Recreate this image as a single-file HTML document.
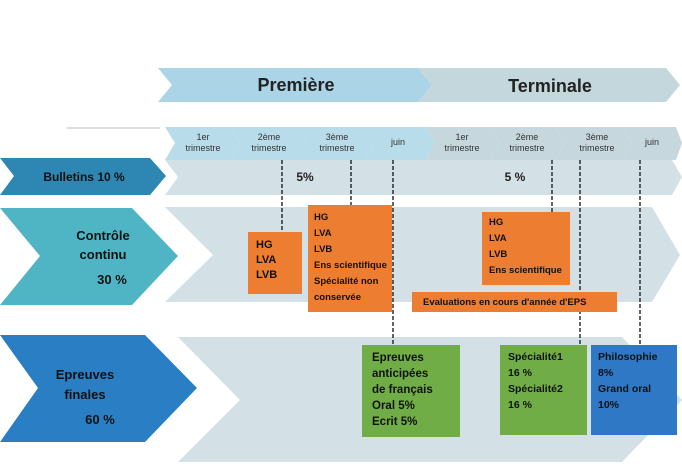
<!DOCTYPE html><html><head><meta charset="utf-8"><style>
body{margin:0;width:682px;height:469px;background:#fff;overflow:hidden;font-family:"Liberation Sans",sans-serif}
svg{position:absolute;left:0;top:0}
.b{position:absolute;font-weight:bold;font-size:10px;line-height:15px;color:#111;box-sizing:border-box;white-space:nowrap}
</style></head><body>
<svg width="682" height="469">
<g font-family="Liberation Sans, sans-serif">
<polygon points="158,68 418,68 432,85 418,102 158,102 172,85" fill="#abd5e7"/>
<polygon points="418,68 666,68 680,85 666,102 418,102 432,85" fill="#c4d7dd"/>
<text x="296" y="91" font-size="18" font-weight="bold" text-anchor="middle" fill="#222">Première</text>
<text x="550" y="92" font-size="18" font-weight="bold" text-anchor="middle" fill="#222">Terminale</text>
<line x1="67" y1="128" x2="160" y2="128" stroke="#bbb"/>
<polygon points="165,127 230,127 240,143 230,160 165,160 175,143" fill="#b8dcea"/>
<polygon points="230,127 297,127 307,143 297,160 230,160 240,143" fill="#b8dcea"/>
<polygon points="297,127 365,127 375,143 365,160 297,160 307,143" fill="#b8dcea"/>
<polygon points="365,127 425,127 435,143 425,160 365,160 375,143" fill="#b8dcea"/>
<polygon points="425,127 490,127 500,143 490,160 425,160 435,143" fill="#c6d8de"/>
<polygon points="490,127 555,127 565,143 555,160 490,160 500,143" fill="#c6d8de"/>
<polygon points="555,127 622,127 632,143 622,160 555,160 565,143" fill="#c6d8de"/>
<polygon points="622,127 676,127 682,143 676,160 622,160 632,143" fill="#c6d8de"/>
<g font-size="9" fill="#333" text-anchor="middle">
<text x="203" y="140">1er</text><text x="203" y="151">trimestre</text>
<text x="269" y="140">2ème</text><text x="269" y="151">trimestre</text>
<text x="337" y="140">3ème</text><text x="337" y="151">trimestre</text>
<text x="398" y="145">juin</text>
<text x="462" y="140">1er</text><text x="462" y="151">trimestre</text>
<text x="527" y="140">2ème</text><text x="527" y="151">trimestre</text>
<text x="597" y="140">3ème</text><text x="597" y="151">trimestre</text>
<text x="652" y="145">juin</text>
</g>
<polygon points="165,160 412,160 425,177 412,195 165,195 178,177" fill="#d3e0e6"/>
<polygon points="412,160 672,160 682,177 672,195 412,195 425,177" fill="#d3e0e6"/>
<polygon points="0,158 150,158 166,176 150,195 0,195 14,176" fill="#2d87b2"/>
<text x="84" y="181" font-size="12" font-weight="bold" text-anchor="middle" fill="#111">Bulletins 10 %</text>
<text x="305" y="181" font-size="12" font-weight="bold" fill="#222" text-anchor="middle">5%</text>
<text x="515" y="181" font-size="12" font-weight="bold" fill="#222" text-anchor="middle">5 %</text>
<polygon points="165,207 652,207 680,255 652,302 165,302 213,255" fill="#d3e0e6"/>
<polygon points="0,208 132,208 178,256 132,305 0,305 40,256" fill="#4fb4c4"/>
<polygon points="178,337 622,337 682,400 622,462 178,462 240,400" fill="#d3e0e6"/>
<polygon points="0,335 145,335 197,388 145,442 0,442 38,388" fill="#2a7fc4"/>
<g text-anchor="middle" font-size="13" font-weight="bold" fill="#111">
<text x="103" y="240">Contrôle</text><text x="103" y="259">continu</text><text x="112" y="284">30 %</text>
<text x="85" y="379">Epreuves</text><text x="85" y="399">finales</text><text x="100" y="424">60 %</text>
</g>
<g stroke="#111" stroke-width="1.3" stroke-dasharray="4,2">
<line x1="282" y1="160" x2="282" y2="232"/><line x1="351" y1="160" x2="351" y2="205"/>
<line x1="393" y1="160" x2="393" y2="345"/><line x1="552" y1="160" x2="552" y2="212"/>
<line x1="580" y1="160" x2="580" y2="345"/><line x1="640" y1="160" x2="640" y2="345"/>
</g>
</g></svg>
<div class="b" style="left:248px;top:232px;width:54px;height:62px;background:#ed7d31;padding:6px 0 0 8px;font-size:11px">HG<br>LVA<br>LVB</div>
<div class="b" style="left:308px;top:205px;width:84px;height:107px;background:#ed7d31;padding:5px 0 0 6px;font-size:9.5px;line-height:16px">HG<br>LVA<br>LVB<br>Ens scientifique<br>Spécialité non<br>conservée</div>
<div class="b" style="left:482px;top:212px;width:88px;height:73px;background:#ed7d31;padding:3px 0 0 7px;font-size:9.5px;line-height:16px">HG<br>LVA<br>LVB<br>Ens scientifique</div>
<div class="b" style="left:412px;top:292px;width:205px;height:20px;background:#ed7d31;padding:3px 0 0 11px;font-size:9.5px">Evaluations en cours d'année d'EPS</div>
<div class="b" style="left:362px;top:345px;width:98px;height:92px;background:#70ad47;padding:5px 0 0 10px;font-size:11.5px;line-height:16px">Epreuves<br>anticipées<br>de français<br>Oral 5%<br>Ecrit 5%</div>
<div class="b" style="left:500px;top:345px;width:87px;height:90px;background:#70ad47;padding:4px 0 0 8px;font-size:10.5px;line-height:16px">Spécialité1<br>16 %<br>Spécialité2<br>16 %</div>
<div class="b" style="left:591px;top:345px;width:86px;height:90px;background:#2e78c6;padding:4px 0 0 7px;font-size:10.5px;line-height:16px">Philosophie<br>8%<br>Grand oral<br>10%</div>
</body></html>
